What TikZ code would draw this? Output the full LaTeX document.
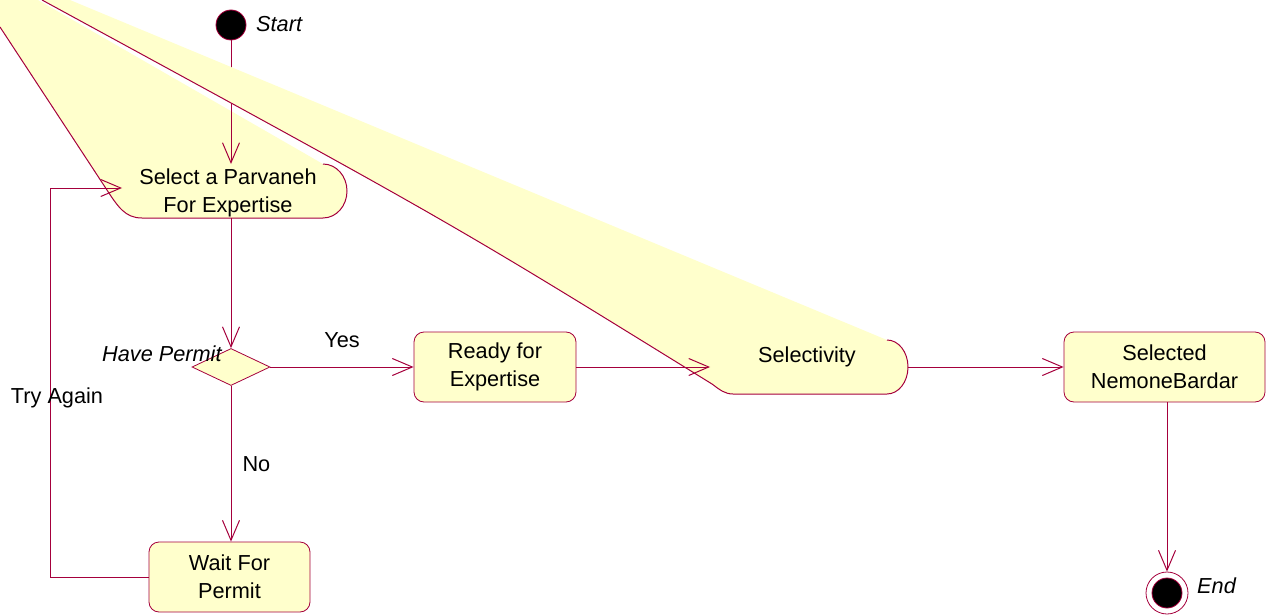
\documentclass[tikz,border=0pt]{standalone}
\usepackage{fontspec}
\setmainfont{Liberation Sans}
\usetikzlibrary{arrows.meta,shapes.geometric,positioning}
\definecolor{umlline}{RGB}{165,0,60}
\definecolor{umlfill}{RGB}{255,255,204}
\begin{document}
\begin{tikzpicture}[x=1pt,y=-1pt,
  every node/.style={font=\fontsize{21.7}{28}\selectfont},
  edge/.style={draw=umlline,line width=1pt},
  flow/.style={edge,-{Straight Barb[length=20pt,width=17pt]}},
  activity/.style={draw=umlline,fill=umlfill,line width=0.8pt,rounded corners=10pt,
    minimum width=162pt,minimum height=70pt,align=center,inner sep=0pt},
  decision/.style={diamond,draw=umlline,fill=umlfill,line width=0.8pt,
    minimum width=78pt,minimum height=37pt,inner sep=0pt},
  initial/.style={circle,fill=black,draw=umlline,line width=0.8pt,minimum size=30pt,inner sep=0pt},
  final/.style={circle,fill=white,draw=umlline,line width=0.8pt,minimum size=42pt,inner sep=0pt},
  lbl/.style={inner sep=0pt},
  note/.style={inner sep=0pt,font=\fontsize{21.7}{28}\selectfont\itshape}]
\useasboundingbox (0,0) rectangle (1266,615);
%% stretched activity: Select a Parvaneh
\fill[umlfill] (0,0) -- (38,0) -- (323,164)
  .. controls (336.3,164) and (347,176.1) .. (347,191)
  .. controls (347,205.9) and (336.3,218) .. (323,218)
  -- (142,218) .. controls (125,218) and (118,207) .. (105,187) -- (0,27) -- cycle;
\draw[edge] (323,164) .. controls (336.3,164) and (347,176.1) .. (347,191)
  .. controls (347,205.9) and (336.3,218) .. (323,218)
  -- (142,218) .. controls (125,218) and (118,207) .. (105,187) -- (0,27);
\node[align=center] (parv) at (228,193) {Select a Parvaneh\\For Expertise};
\coordinate (parvtop) at (231,164);
\coordinate (parvbot) at (231,218);
\coordinate (parvin) at (122,188);
\coordinate (loopc) at (50,188);
\node[initial] (start) at (231,25) {};
\node[note,anchor=base west] (startlbl) at (256,32) {Start};
\draw[flow] (start) -- (parvtop);
%% stretched activity: Selectivity
\fill[umlfill] (42,0) -- (70,0) -- (887,340)
  .. controls (898.6,340) and (908,352.1) .. (908,367)
  .. controls (908,381.9) and (898.6,394) .. (887,394)
  -- (733,394) .. controls (725,394) and (720,390) .. (712,384)
  .. controls (450,222) .. (42,0) -- cycle;
\draw[edge] (42,0) .. controls (450,222) .. (712,384)
  .. controls (720,390) and (725,394) .. (733,394) -- (887,394)
  .. controls (898.6,394) and (908,381.9) .. (908,367)
  .. controls (908,352.1) and (898.6,340) .. (887,340);
\node (selv) at (807,357) {Selectivity};
\coordinate (selvin) at (710,367);
\coordinate (selvout) at (908,367);
\node[decision] (permit) at (231,367) {};
\node[note,anchor=base west] (permitlbl) at (102,361) {Have Permit};
\node[activity] (ready) at (495,367) {Ready for\\Expertise};
\node[activity,minimum width=201pt] (chosen) at (1164.5,367) {Selected\\NemoneBardar};
\node[activity,minimum width=161pt] (wait) at (229.5,577) {Wait For\\Permit};
\node[final] (fin) at (1167,593) {};
\fill[black,draw=umlline,line width=0.8pt] (fin) circle (15);
\node[note,anchor=base west] (finlbl) at (1197,593) {End};
\draw[flow] (parvbot) -- (permit.north);
\draw[flow] (permit.east) -- node[lbl,above=19pt] {Yes} (ready.west);
\draw[flow] (permit.south) -- node[lbl,right=11pt] {No} (permit.south |- wait.north);
\draw[flow] (wait.west) -| node[lbl,pos=0.73,xshift=7pt] {Try Again} (loopc) -- (parvin);
\draw[flow] (ready.east) -- (selvin);
\draw[flow] (selvout) -- (chosen.west);
\draw[flow] (chosen.south -| fin) -- (fin.north);
\end{tikzpicture}
\end{document}
